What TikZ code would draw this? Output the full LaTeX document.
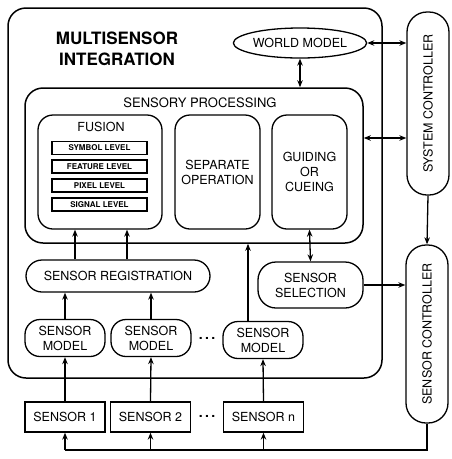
\documentclass[tikz,border=0pt]{standalone}
\usepackage{fontspec}
\setmainfont{TeX Gyre Heros}
\usetikzlibrary{positioning}
\usetikzlibrary{arrows.meta}
\usetikzlibrary{shapes.geometric}

\tikzset{
    blk/.style={draw, rounded corners=15pt, inner sep=0pt, align=center,
        font=\fontsize{12.5}{15}\selectfont},
    lvl/.style={draw, line width=1.6pt, minimum width=95pt, minimum height=13pt,
        inner sep=0pt, font=\bfseries\fontsize{8}{9}\selectfont},
    sens/.style={draw, minimum width=80pt, minimum height=30pt, inner sep=0pt,
        font=\fontsize{12.5}{15}\selectfont},
    mdl/.style={blk, minimum width=80pt, minimum height=37pt},
    ctrl/.style={blk, rounded corners=20pt, minimum width=42pt},
    dots/.style={font=\bfseries\fontsize{14}{16}\selectfont},
}

\begin{document}
\begin{tikzpicture}[x=1pt, y=-1pt, >={Stealth[length=7pt,width=5.5pt]}, line width=1.3pt]
    \useasboundingbox (0,0) rectangle (451,459);

    % outer box
    \node[blk, line width=1.5pt, rounded corners=18pt, minimum width=374pt, minimum height=370pt] (msi) at (195,193) {};
    \node[font=\bfseries\fontsize{17}{21}\selectfont, align=center] (title) at (117,49) {MULTISENSOR\\INTEGRATION};

    \node[draw, ellipse, minimum width=130pt, minimum height=30pt, inner sep=0pt,
        font=\fontsize{12.5}{15}\selectfont] (world) at (300,43) {WORLD MODEL};

    % sensory processing
    \node[blk, line width=1.5pt, rounded corners=18pt, minimum width=338pt, minimum height=155pt] (sp) at (194,165.5) {};
    \node[font=\fontsize{13}{15}\selectfont] (spl) at (200,103) {SENSORY PROCESSING};

    \node[blk, minimum width=124pt, minimum height=114pt] (fusion) at (100,172) {};
    \node[font=\fontsize{12.5}{15}\selectfont] (fusl) at (101,127) {FUSION};
    \node[lvl] (sym) at (99.5,148) {SYMBOL LEVEL};
    \node[lvl] (feat) at (99.5,166.5) {FEATURE LEVEL};
    \node[lvl] (pix) at (99.5,185.5) {PIXEL LEVEL};
    \node[lvl] (sig) at (99.5,204.5) {SIGNAL LEVEL};

    \node[blk, minimum width=85pt, minimum height=114pt] (sep) at (217.5,172) {SEPARATE\\OPERATION};
    \node[blk, minimum width=75pt, minimum height=114pt] (guide) at (309.5,172) {GUIDING\\OR\\CUEING};

    % registration and models
    \node[blk, rounded corners=16pt, minimum width=184pt, minimum height=32pt] (reg) at (118,276) {SENSOR REGISTRATION};
    \node[mdl] (sm1) at (65,338) {SENSOR\\MODEL};
    \node[mdl] (sm2) at (151,338) {SENSOR\\MODEL};
    \node[mdl] (sm3) at (263,340) {SENSOR\\MODEL};
    \node[dots] (dots1) at (207,338) {.\,.\,.};
    \node[blk, rounded corners=18pt, minimum width=105pt, minimum height=46pt] (sel) at (310.5,285) {SENSOR\\SELECTION};

    % sensors
    \node[sens] (s1) at (65,417) {SENSOR 1};
    \node[sens] (s2) at (150.5,417) {SENSOR 2};
    \node[sens] (sn) at (263.5,417) {SENSOR n};
    \node[dots] (dots2) at (207,416) {.\,.\,.};

    % controllers
    \node[ctrl, minimum height=183pt] (sysc) at (428,103.5) {\rotatebox{90}{SYSTEM CONTROLLER}};
    \node[ctrl, minimum height=178pt] (senc) at (427,334) {\rotatebox{90}{SENSOR CONTROLLER}};

    \coordinate (fa) at (75,0);
    \coordinate (fb) at (127,0);
    \coordinate (mc) at (248,0);
    \coordinate (spk) at (0,138);
    \coordinate (bus) at (65,450);

    \draw[->] (fa |- reg.north) -- (fa |- fusion.south);
    \draw[->] (fb |- reg.north) -- (fb |- fusion.south);
    \draw[->] (sm1.north) -- (sm1.north |- reg.south);
    \draw[->] (sm2.north) -- (sm2.north |- reg.south);
    \draw[->] (mc |- sm3.north) -- (mc |- sp.south);
    \draw[->] (s1.north) -- (sm1.south);
    \draw[->] (s2.north) -- (sm2.south);
    \draw[->] (sn.north) -- (sm3.south);
    \draw[<->] (guide.south) -- (sel.north);
    \draw[<->] (world.south) -- (world.south |- sp.north);
    \draw[<->] (world.east) -- (world.east -| sysc.west);
    \draw[<->] (spk -| sp.east) -- (spk -| sysc.west);
    \draw[->] (sel.east) -- (sel.east -| senc.west);
    \draw[->] (sysc.south) -- (senc.north);

    % feedback to sensors
    \draw (senc.south) |- (bus);
    \draw[->] (bus) -- (s1.south);
    \draw[->] (bus -| s2.south) -- (s2.south);
    \draw[->] (bus -| sn.south) -- (sn.south);
\end{tikzpicture}
\end{document}
